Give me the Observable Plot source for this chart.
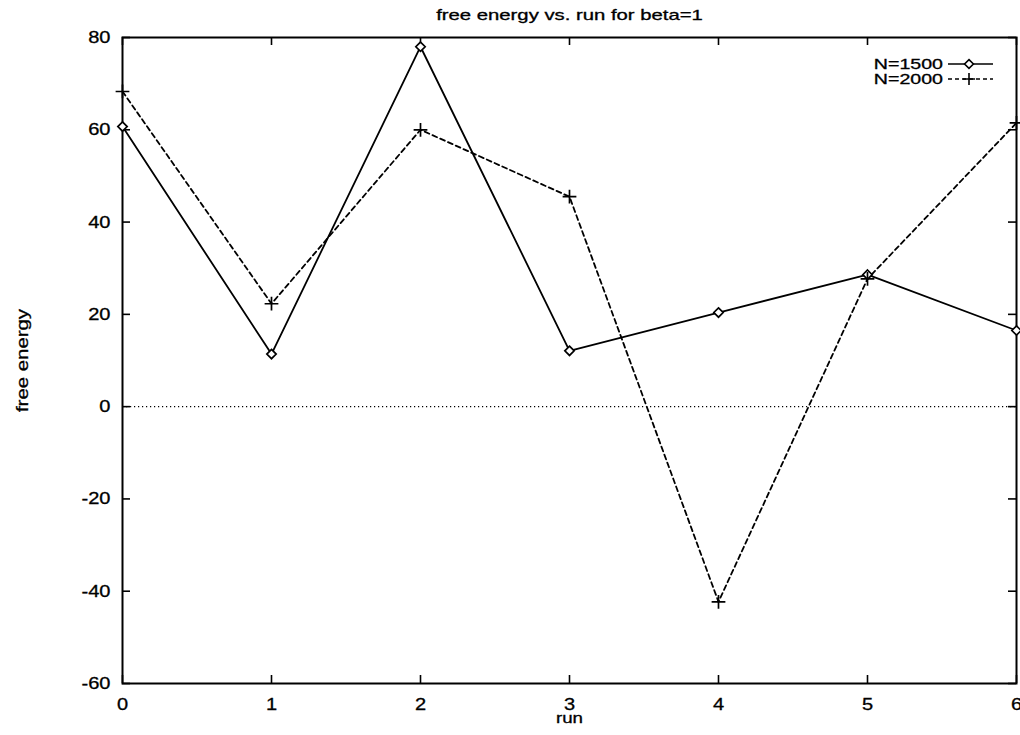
<!DOCTYPE html>
<html>
<head>
<meta charset="utf-8">
<script src="https://cdn.jsdelivr.net/npm/d3@7"></script>
<script src="https://cdn.jsdelivr.net/npm/@observablehq/plot@0.6"></script>
<style>
  body { margin: 0; background: #fff; }
  #wrap { position: relative; width: 1020px; height: 735px; }
  #wrap svg { font-family: "Liberation Sans", Arial, sans-serif; }
  #wrap text { stroke: black; stroke-width: 0.3px; }
  #legend { position: absolute; left: 0; top: 0; pointer-events: none; }
</style>
</head>
<body>
<div id="wrap"></div>
<script>
// ---- data ----
const runs = [0, 1, 2, 3, 4, 5, 6];
const n1500 = [60.7, 11.4, 78.0, 12.1, 20.4, 28.6, 16.5];
const n2000 = [68.3, 22.3, 60.0, 45.5, -42.3, 27.7, 61.5];
const seriesNames = ["N=1500", "N=2000"];
const xTicks = [0, 1, 2, 3, 4, 5, 6];
const yTicks = [-60, -40, -20, 0, 20, 40, 60, 80];
const titleText = "free energy vs. run for beta=1";
const xLabel = "run";
const yLabel = "free energy";

const d1500 = runs.map((r, i) => ({run: r, value: n1500[i]}));
const d2000 = runs.map((r, i) => ({run: r, value: n2000[i]}));

const W = 1020, H = 735;
const mL = 122, mR = 4, mT = 37, mB = 52;
const fh = H - mT - mB, fw = W - mL - mR;
const tick = 8;
const font = "Liberation Sans, Arial, sans-serif";

const chart = Plot.plot({
  width: W, height: H,
  marginLeft: mL, marginRight: mR, marginTop: mT, marginBottom: mB,
  style: {fontFamily: font, color: "black", background: "white"},
  x: {domain: [0, 6], axis: null},
  y: {domain: [-60, 80], axis: null},
  marks: [
    Plot.ruleY([0], {stroke: "black", strokeWidth: 1.2, strokeDasharray: "1.2,2.8"}),
    Plot.tickX(xTicks, {x: d => d, insetTop: fh - tick, stroke: "black", strokeWidth: 1.6}),
    Plot.tickX(xTicks, {x: d => d, insetBottom: fh - tick, stroke: "black", strokeWidth: 1.6}),
    Plot.tickY(yTicks, {y: d => d, insetRight: fw - tick, stroke: "black", strokeWidth: 1.6}),
    Plot.tickY(yTicks, {y: d => d, insetLeft: fw - tick, stroke: "black", strokeWidth: 1.6}),
    Plot.frame({stroke: "black", strokeWidth: 2}),
    Plot.axisX(xTicks, {tickSize: 0, tickPadding: 14, fontSize: 17, label: null, tickFormat: d => String(d)}),
    Plot.axisY(yTicks, {tickSize: 0, tickPadding: 12, fontSize: 17, label: null, tickFormat: d => String(d)}),
    Plot.line(d1500, {x: "run", y: "value", stroke: "black", strokeWidth: 1.8}),
    Plot.line(d2000, {x: "run", y: "value", stroke: "black", strokeWidth: 1.8, strokeDasharray: "5,3.5"}),
    Plot.dot(d1500, {x: "run", y: "value", symbol: "diamond2", r: 4.2, stroke: "black", strokeWidth: 1.7, fill: "white"}),
    Plot.dot(d2000, {x: "run", y: "value", symbol: "plus", r: 4.5, stroke: "black", strokeWidth: 1.7}),
    Plot.text([titleText], {frameAnchor: "top", dy: -22, text: d => d, fontSize: 14, lineAnchor: "middle", fill: "black"}),
    Plot.text([xLabel], {frameAnchor: "bottom", dy: 35, text: d => d, fontSize: 15, lineAnchor: "middle", fill: "black"}),
    Plot.text([yLabel], {frameAnchor: "left", dx: -100, rotate: -90, text: d => d, fontSize: 17, lineAnchor: "middle", textAnchor: "middle", fill: "black"})
  ]
});
document.getElementById("wrap").appendChild(chart);

// widen glyphs horizontally like the scanned original
const stretchFor = new Map([[titleText, 1.45], [xLabel, 1.25], [yLabel, 1.2]]);
d3.select(chart).selectAll("text").each(function() {
  const s = stretchFor.get(this.textContent) ?? 1.18;
  let t = this.getAttribute("transform");
  if (!t) {
    const x = this.getAttribute("x") || 0, y = this.getAttribute("y") || 0;
    this.removeAttribute("x"); this.removeAttribute("y");
    t = `translate(${x},${y})`;
  }
  this.setAttribute("transform", `${t} scale(${s},1)`);
});

// legend (overlay, top-right inside the frame)
const leg = d3.select("#wrap").append("svg")
  .attr("id", "legend").attr("width", W).attr("height", H)
  .attr("font-family", font);
const rows = [
  {name: seriesNames[0], dash: null, symbol: d3.symbolDiamond2, fill: "white"},
  {name: seriesNames[1], dash: "4,3", symbol: d3.symbolPlus, fill: "none"}
];
rows.forEach((row, i) => {
  const yb = 69 + i * 15, yl = 64 + i * 15;
  leg.append("text").attr("transform", `translate(943,${yb}) scale(1.4,1)`)
    .attr("text-anchor", "end").attr("font-size", 14).attr("fill", "black").text(row.name);
  leg.append("line").attr("x1", 948).attr("x2", 993).attr("y1", yl).attr("y2", yl)
    .attr("stroke", "black").attr("stroke-width", 1.7).attr("stroke-dasharray", row.dash);
  leg.append("path").attr("transform", `translate(969,${yl})`)
    .attr("d", d3.symbol(row.symbol, 4 * 4 * Math.PI)())
    .attr("stroke", "black").attr("stroke-width", 1.6).attr("fill", row.fill);
});
</script>
</body>
</html>
